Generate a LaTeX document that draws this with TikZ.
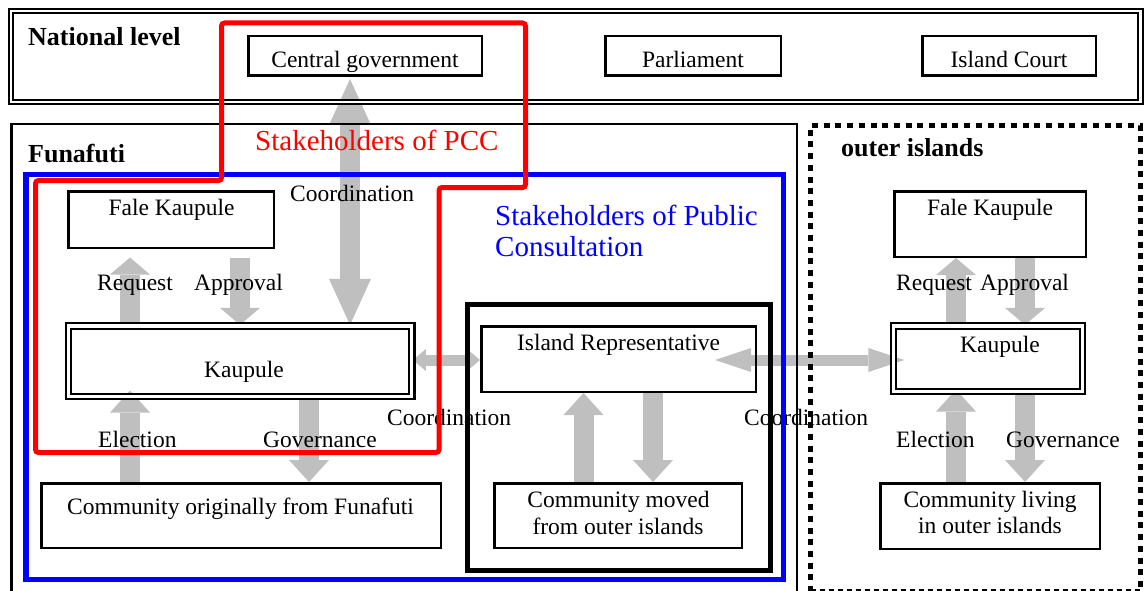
\documentclass[tikz,border=0pt]{standalone}
\usepackage{fontspec}
\setmainfont{Liberation Serif}
\usetikzlibrary{arrows.meta,calc}
\pgfdeclarelayer{bg}
\pgfsetlayers{bg,main}
\definecolor{agray}{RGB}{191,191,191}
\definecolor{pccred}{RGB}{255,0,0}
\definecolor{pubblue}{RGB}{0,0,255}
\newcommand{\txtreg}{\fontsize{23.5}{27}\selectfont}
\newcommand{\txtbold}{\fontsize{26}{30}\selectfont\bfseries}
\newcommand{\txtbig}{\fontsize{29}{33}\selectfont}

\tikzset{
  box/.style={draw, line width=2.5pt, inner sep=0pt},
  dbox/.style={draw, double, line width=2.2pt, double distance=3.2pt, inner sep=0pt},
  lbl/.style={inner sep=0pt, anchor=base west, font=\txtreg},
  ctxt/.style={inner sep=0pt, anchor=base, font=\txtreg},
  head/.style={inner sep=0pt, anchor=base west, font=\txtbold},
  big/.style={inner sep=0pt, anchor=base west, font=\txtbig},
  garr/.style={draw=agray, line width=20pt},
  harr/.style={draw=agray, line width=11pt},
  hS/.tip={Triangle[width=40pt,length=17pt,line width=0pt]},
  hM/.tip={Triangle[width=40pt,length=22pt,line width=0pt]},
  hL/.tip={Triangle[width=42pt,length=46pt,line width=0pt]},
  hN/.tip={Triangle[width=22pt,length=13pt,line width=0pt]},
  hW/.tip={Triangle[width=24pt,length=36pt,line width=0pt]},
}

\begin{document}
\begin{tikzpicture}[x=1pt,y=-1pt]
\useasboundingbox (0,0) rectangle (1146,591);

% ---------- national level ----------
\node[draw, double, line width=2pt, double distance=2.2pt, inner sep=0pt,
      minimum width=1129.3pt, minimum height=91.1pt] (natl) at (575.75,56.65) {};
\node[head] (natlT) at (28,46) {National level};
\node[box, minimum width=233.5pt, minimum height=39.5pt] (cg) at (365,56) {};
\node[ctxt] at (365,68) {Central government};
\node[box, minimum width=175.5pt, minimum height=39.5pt] (parl) at (693,56) {};
\node[ctxt] at (693,68) {Parliament};
\node[box, minimum width=173.5pt, minimum height=39.5pt] (court) at (1009,56) {};
\node[ctxt] at (1009,68) {Island Court};

% ---------- Funafuti ----------
\node[head] (funT) at (28,163) {Funafuti};
\node[box, minimum width=205.5pt, minimum height=56.5pt] (faleF) at (171,219.5) {};
\node[ctxt] at (171.5,215) {Fale Kaupule};
\node[dbox, minimum width=343.5pt, minimum height=70.4pt] (kaupF) at (240.1,361.2) {};
\node[ctxt] at (244,377) {Kaupule};
\node[box, minimum width=399.5pt, minimum height=64.5pt] (commF) at (241,515.5) {};
\node[ctxt] at (240.5,514) {Community originally from Funafuti};

\node[box, minimum width=274.5pt, minimum height=65.5pt] (irep) at (618.5,359) {};
\node[ctxt] at (618.5,350) {Island Representative};
\node[box, minimum width=247.5pt, minimum height=64.5pt] (commM) at (618,515.5) {};
\node[ctxt] at (618.5,507) {Community moved};
\node[ctxt] at (618,534) {from outer islands};

\node[lbl] (reqF) at (97,290) {Request};
\node[lbl] (appF) at (194,290) {Approval};
\node[lbl] (cooT) at (290,201) {Coordination};
\node[lbl] (eleF) at (98,447) {Election};
\node[lbl] (govF) at (263,447) {Governance};
\node[lbl] (cooL) at (387,425) {Coordination};
\node[lbl] (cooR) at (744,425) {Coordination};

% ---------- outer islands ----------
\node[head] (outT) at (841,157) {outer islands};
\node[box, minimum width=191.5pt, minimum height=65.5pt] (faleO) at (990,224) {};
\node[ctxt] at (990,215) {Fale Kaupule};
\node[dbox, minimum width=189pt, minimum height=65.5pt] (kaupO) at (988,358.75) {};
\node[ctxt] at (1000,352) {Kaupule};
\node[box, minimum width=219.5pt, minimum height=65.5pt] (commO) at (990,516) {};
\node[ctxt] at (990,507) {Community living};
\node[ctxt] at (990,533) {in outer islands};

\node[lbl] (reqO) at (896,290) {Request};
\node[lbl] (appO) at (980,290) {Approval};
\node[lbl] (eleO) at (896,447) {Election};
\node[lbl] (govO) at (1006,447) {Governance};

% ---------- stakeholder groups ----------
\node[big, text=pccred] (pccT) at (255,151) {Stakeholders of PCC};
\node[big, text=pubblue] (pubA) at (495,225.5) {Stakeholders of Public};
\node[big, text=pubblue] (pubB) at (495,256.5) {Consultation};

% column and row guides for the flow arrows
\coordinate (cReqF) at (130,0);
\coordinate (cAppF) at (240,0);
\coordinate (cCoo)  at (350,0);
\coordinate (cGovF) at (309,0);
\coordinate (cUpM)  at (583.5,0);
\coordinate (cDnM)  at (653,0);
\coordinate (cReqO) at (956,0);
\coordinate (cAppO) at (1025,0);
\coordinate (rowH)  at (0,360);

% ---------- grey flow arrows ----------
\begin{pgfonlayer}{bg}
  \draw[garr, -hS] (kaupF.north -| cReqF) -- ($(faleF.south -| cReqF)+(0,8.5)$);
  \draw[garr, -hS] ($(faleF.south -| cAppF)+(0,8.5)$) -- (kaupF.north -| cAppF);
  \draw[garr, hL-hL] ($(cg.south -| cCoo)+(0,2)$) -- (kaupF.north -| cCoo);
  \draw[garr, -hM] (commF.north -| cReqF) -- ($(kaupF.south -| cReqF)+(0,-7)$);
  \draw[garr, -hM] (kaupF.south -| cGovF) -- (commF.north -| cGovF);
  \draw[harr, hN-hN] (kaupF.east |- rowH) -- (irep.west |- rowH);
  \draw[harr, hW-hW] ($(irep.east |- rowH)+(-42,0)$) -- ($(kaupO.west |- rowH)+(12,0)$);
  \draw[garr, -hM] (commM.north -| cUpM) -- (irep.south -| cUpM);
  \draw[garr, -hM] (irep.south -| cDnM) -- (commM.north -| cDnM);
  \draw[garr, -hS] (kaupO.north -| cReqO) -- (faleO.south -| cReqO);
  \draw[garr, -hS] (faleO.south -| cAppO) -- (kaupO.north -| cAppO);
  \draw[garr, -hM] (commO.north -| cReqO) -- ($(kaupO.south -| cReqO)+(0,-3)$);
  \draw[garr, -hM] (kaupO.south -| cAppO) -- (commO.north -| cAppO);
\end{pgfonlayer}

% ---------- region frames ----------
\draw[line width=2.5pt] (11.5,600) -- (11.5,124) -- (797,124) -- (797,600);
\draw[line width=5pt] (467.5,304.5) rectangle (770,570.5);
\draw[pubblue, line width=5.5pt] (26,174.5) rectangle (783.5,579.5);
\draw[pccred, line width=5pt, rounded corners=3pt]
  (221.5,23) -- (525.5,23) -- (525.5,187.5) -- (439,187.5) -- (439,452.5)
  -- (35.5,452.5) -- (35.5,180.5) -- (221.5,180.5) -- cycle;
\draw[line width=5pt, dash pattern=on 6pt off 5.7pt]
  (810.5,592) -- (810.5,125.5) -- (1140.5,125.5) -- (1140.5,592);
\draw[line width=1.3pt, dash pattern=on 5pt off 4pt] (810.5,590) -- (1140.5,590);
\end{tikzpicture}
\end{document}
